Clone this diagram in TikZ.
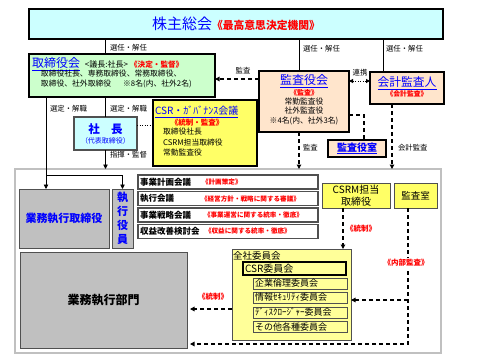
\documentclass[tikz,border=0pt]{standalone}
\usepackage{fontspec}
\setmainfont{Noto Sans CJK JP}
\usetikzlibrary{arrows.meta,calc}
\definecolor{tblue}{HTML}{0000FF}
\definecolor{tred}{HTML}{FF0000}
\definecolor{cyanf}{HTML}{CCFFFF}
\definecolor{greenf}{HTML}{CCFFCC}
\definecolor{peachf}{HTML}{FFE5CC}
\definecolor{yelf}{HTML}{FFFF66}
\definecolor{lyelf}{HTML}{FFFF99}
\definecolor{grayf}{HTML}{C0C0C0}
\definecolor{framec}{HTML}{C0C0C0}
\definecolor{dkgray}{HTML}{505050}
\newcommand{\fsz}[1]{\fontsize{#1}{#1}\selectfont}
\tikzset{
  bx/.style={draw, inner sep=0pt, outer sep=0pt},
  thickbx/.style={bx, line width=1.6pt},
  thinbx/.style={bx, draw=dkgray, line width=1pt},
  txt/.style={inner sep=0pt, outer sep=0pt},
  lbl/.style={txt, font=\fsz{7.4}},
  redl/.style={txt, text=tred, font=\fsz{7.5}\bfseries},
  conn/.style={line width=0.8pt},
  arr/.style={-{Triangle[length=4.5pt,width=4.5pt]}},
  dsh/.style={line width=1.3pt, dash pattern=on 4pt off 3pt},
  dotl/.style={line width=1pt, dash pattern=on 1pt off 1.5pt},
}
\begin{document}
\begin{tikzpicture}[x=1pt,y=-1pt]
\fill[white] (0,0) rectangle (480,360);
\useasboundingbox (0,0) rectangle (480,360);

% helper coordinates
\coordinate (cA) at (105,0);
\coordinate (cB) at (299,0);
\coordinate (cC) at (383,0);
\coordinate (cD) at (46,0);
\coordinate (cG) at (392,0);
\coordinate (cI) at (364,0);
\coordinate (cJ) at (343,0);
\coordinate (cK) at (408,0);
\coordinate (rA) at (0,79);
\coordinate (rB) at (0,81);
\coordinate (rC) at (0,115);
\coordinate (rD) at (0,125);
\coordinate (rE) at (0,344);
\coordinate (rF) at (0,300);
\coordinate (rG) at (0,309);
\coordinate (rH) at (0,175);

% frame
\node[bx, draw=framec, line width=2pt, minimum width=426pt, minimum height=184pt] (frame) at (228,261) {};

% shareholders
\node[thickbx, line width=2pt, fill=cyanf, minimum width=414pt, minimum height=30pt] (kabu) at (236,24)
  {{\fsz{15}\color{tblue}株主総会}{\fsz{10.8}\bfseries\color{tred}《最高意思決定機関》}};

% board
\node[thickbx, fill=greenf, minimum width=186pt, minimum height=43pt] (tori) at (122,75.5) {};
\node[txt, anchor=west] (toriT) at (32,64) {{\fsz{12}\color{tblue}\underline{取締役会}}\hspace{5pt}{\fsz{8}<議長:社長>}\hspace{2pt}{\fsz{7.6}\bfseries\color{tred}《決定・監督》}};
\node[txt, anchor=west, font=\fsz{7.8}] (toriL2) at (41,74) {取締役社長、専務取締役、常務取締役、};
\node[txt, anchor=west, font=\fsz{7.8}] (toriL3) at (41,84) {取締役、社外取締役\hspace{12pt}※8名(内、社外2名)};

% auditors
\node[thickbx, fill=peachf, minimum width=90pt, minimum height=61pt] (kansa) at (304,101.5) {};
\node[txt, font=\fsz{12}, text=tblue] at (304,81) {\underline{監査役会}};
\node[redl, font=\fsz{7}\bfseries] at (304,93) {《監査》};
\node[txt, font=\fsz{7.8}] at (304,102) {常勤監査役};
\node[txt, font=\fsz{7.8}] at (304,111) {社外監査役};
\node[txt, font=\fsz{7.8}] at (304,121) {※4名(内、社外3名)};

% accounting auditor
\node[thickbx, fill=peachf, minimum width=74pt, minimum height=32pt] (kaikei) at (407,88) {};
\node[txt, font=\fsz{11.8}, text=tblue] at (407,83) {\underline{会計監査人}};
\node[redl, font=\fsz{6.8}\bfseries] at (407,94) {《会計監査》};

% audit office
\node[thickbx, fill=peachf, minimum width=58pt, minimum height=17pt, font=\fsz{10}\bfseries, text=tblue] (kansashitsu) at (357,148.5) {\underline{監査役室}};

% president
\node[bx, draw=dkgray, line width=1.2pt, fill=cyanf, minimum width=63pt, minimum height=33pt] (shacho) at (105.5,133.5) {};
\node[txt, font=\fsz{11.5}\bfseries, text=tblue] at (105.5,129) {社　長};
\node[txt, font=\fsz{7}, text=tblue] at (105.5,141) {（代表取締役）};

% CSR governance
\node[thickbx, fill=yelf, minimum width=104pt, minimum height=66pt] (csrg) at (205,133) {};
\node[txt, anchor=west, font=\fsz{10}, text=tblue] at (155,112) {\underline{CSR・ｶﾞﾊﾞﾅﾝｽ会議}};
\node[redl] at (197,123) {《統制・監査》};
\node[txt, anchor=west, font=\fsz{7.8}] at (163,132) {取締役社長};
\node[txt, anchor=west, font=\fsz{7.8}] at (163,143) {CSRM担当取締役};
\node[txt, anchor=west, font=\fsz{7.8}] at (163,153) {常勤監査役};

% meetings
\tikzset{mtg/.style={bx, draw=dkgray, line width=1.1pt, fill=white, minimum width=180pt, minimum height=14pt},
  mtgt/.style={txt, anchor=west, font=\fsz{8.5}\bfseries},
  mtgr/.style={txt, anchor=west, text=tred, font=\fsz{6.6}\bfseries}}
\node[mtg] (m1) at (228,182) {};
\node[mtg] (m2) at (228,198.5) {};
\node[mtg] (m3) at (228,215) {};
\node[mtg] (m4) at (228,231.5) {};
\node[mtgt] at (140,182) {事業計画会議};
\node[mtgr] at (202,182) {《計画策定》};
\node[mtgt] at (140,198.5) {執行会議};
\node[mtgr] at (201,198.5) {《経営方針・戦略に関する審議》};
\node[mtgt] at (140,215) {事業戦略会議};
\node[mtgr] at (204,215) {《事業運営に関する統率・徹底》};
\node[mtgt] at (140,231.5) {収益改善検討会};
\node[mtgr] at (205,231.5) {《収益に関する統率・徹底》};

% executive boxes
\node[thinbx, fill=grayf, minimum width=90pt, minimum height=59pt, font=\fsz{11}\bfseries, text=tblue] (gyotori) at (64,218.5) {業務執行取締役};
\node[thinbx, fill=grayf, minimum width=21pt, minimum height=59pt, font=\fontsize{11}{14}\selectfont\bfseries, text=tblue, align=center] (shikko) at (122.5,218.5) {執\\行\\役\\員};
\node[thinbx, fill=grayf, minimum width=167pt, minimum height=96pt, font=\fsz{12}\bfseries] (gyobu) at (103.5,300) {業務執行部門};

% CSRM and internal audit
\node[thinbx, fill=yelf, minimum width=68pt, minimum height=25pt, font=\fontsize{10}{12}\selectfont, align=center] (csrm) at (356,195.5) {CSRM担当\\取締役};
\node[thinbx, fill=yelf, minimum width=43pt, minimum height=25pt, font=\fsz{9.5}] (naibu) at (415.5,195.5) {監査室};

% committees
\node[thinbx, fill=lyelf, minimum width=119pt, minimum height=91pt] (zensha) at (291.5,294.5) {};
\node[txt, anchor=west, font=\fsz{9.5}] at (233,256) {全社委員会};
\node[thickbx, fill=lyelf, minimum width=103pt, minimum height=13pt] (csri) at (294.5,268.5) {};
\node[txt, anchor=west, font=\fsz{10}] at (245,268.5) {CSR委員会};
\tikzset{sub/.style={thinbx, fill=lyelf, minimum width=94pt, minimum height=11pt},
  subt/.style={txt, anchor=west, font=\fsz{9}}}
\node[sub] (s1) at (300,283.5) {};
\node[sub] (s2) at (300,297.5) {};
\node[sub] (s3) at (300,312.5) {};
\node[sub] (s4) at (300,327) {};
\node[subt] at (255,283.5) {企業倫理委員会};
\node[subt] at (255,297.5) {情報ｾｷｭﾘﾃｨ委員会};
\node[subt] at (255,312.5) {ﾃﾞｨｽｸﾛｰｼﾞｬｰ委員会};
\node[subt] at (255,327) {その他各種委員会};

% connectors
\draw[conn] (kabu.south -| cA) -- (tori.north -| cA);
\draw[conn] (kabu.south -| cB) -- (kansa.north -| cB);
\draw[conn] (kabu.south -| cC) -- (kaikei.north -| cC);
\node[lbl, anchor=west] at (110,48) {選任・解任};
\node[lbl, anchor=west] at (303,49) {選任・解任};
\node[lbl, anchor=west] at (386,49) {選任・解任};

\draw[dsh,arr] (kansa.west |- rA) -- (tori.east |- rA);
\node[lbl] at (243,71) {監査};
\draw[dotl,{Triangle[length=4pt,width=4pt]}-{Triangle[length=4pt,width=4pt]}] (kansa.east |- rB) -- (kaikei.west |- rB);
\node[lbl] at (360,73) {連携};
\draw[dsh] (kansa.east |- rC) -| (kansashitsu.north -| cI);
\draw[dsh,arr] (kansa.south -| cB) -- (frame.north -| cB);
\node[lbl, anchor=west] at (303,148) {監査};
\draw[dsh,arr] (kaikei.south -| cG) -- (frame.north -| cG);
\node[lbl, anchor=west] at (398,148) {会計監査};

\draw[conn,arr] (tori.south -| cD) -- (gyotori.north -| cD);
\draw[conn,arr] (cD |- rH) -| (shikko.north);
\node[lbl, anchor=west] at (50,109) {選定・解職};
\draw[conn] (tori.south -| shacho.north) -- (shacho.north);
\node[lbl, anchor=west] at (110,109) {選定・解職};
\draw[conn,arr] (shacho.south) -- (frame.north -| shacho.south);
\node[lbl, anchor=west] at (110,155) {指揮・監督};
\draw[dotl] (shacho.east |- rD) -- (csrg.west |- rD);

\draw[dsh,arr] (csrm.south -| cJ) -- (zensha.north -| cJ);
\node[redl] at (361,229) {《統制》};
\draw[dsh,arr,shorten >=3pt] (naibu.south -| cK) |- (gyobu.east |- rE);
\draw[dsh,arr] (cK |- rF) -- (zensha.east |- rF);
\node[redl, fill=white, inner sep=1pt] at (406,263) {《内部監査》};
\draw[dsh,arr,shorten >=3pt] (zensha.west |- rG) -- (gyobu.east |- rG);
\node[redl] at (213,297) {《統制》};
\end{tikzpicture}
\end{document}
